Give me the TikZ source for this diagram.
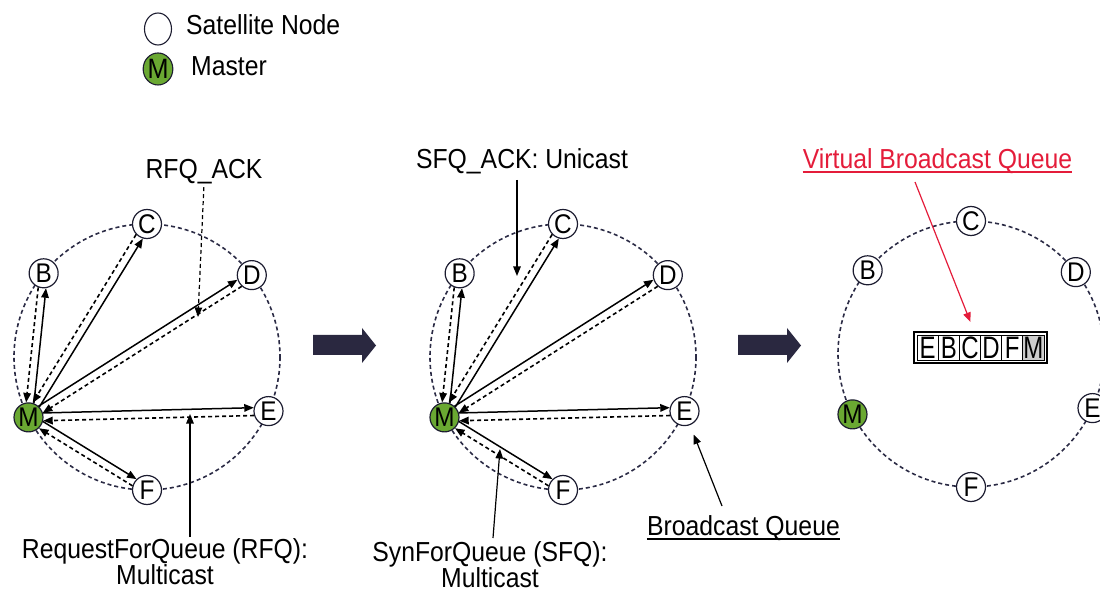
\documentclass[tikz,border=0pt]{standalone}
\usepackage{fontspec}
\setmainfont{Liberation Sans}[FakeStretch=0.9]
\usepackage{graphicx}
\usetikzlibrary{arrows.meta,shapes.geometric,fit}

\definecolor{ringcol}{HTML}{2B2B45}
\definecolor{edgecol}{HTML}{1C1C30}
\definecolor{mastergreen}{HTML}{6AA832}
\definecolor{bigarrowcol}{HTML}{2A2840}
\definecolor{labelred}{HTML}{E41C3A}

% ring of satellites around a dashed circle: #1 prefix, #2/#3 centre
\newcommand\ringnodes[3]{%
  \coordinate (#1c) at (#2,#3);
  \draw[ring] (#1c) circle[radius=133];
  \foreach \lab/\ang in {B/141,C/90,D/38,E/-24,F/-90}
    \node[sat] (#1\lab) at ({#2+133*cos(\ang)},{#3-133*sin(\ang)}) {\lab};
  \node[master] (#1M) at ({#2+133*cos(207)},{#3-133*sin(207)}) {M};
}

% master sends to every satellite (solid), satellites answer (dashed)
\newcommand\exchange[1]{%
  \draw[msg] (#1M.69) -- (#1B.279);
  \draw[ack] (#1B.249) -- (#1M.99);
  \draw[msg] (#1M.44) -- (#1C.254);
  \draw[ack] (#1C.224) -- (#1M.74);
  \draw[msg] (#1M.48) -- (#1D.198);
  \draw[ack] (#1D.228) -- (#1M.18);
  \draw[msg] (#1M.17) -- (#1E.167);
  \draw[ack] (#1E.197) -- (#1M.347);
  \draw[msg] (#1M.344) -- (#1F.134);
  \draw[ack] (#1F.164) -- (#1M.314);
}

\newcommand\qletter[1]{\scalebox{0.86}[1]{#1}}

\begin{document}
\begin{tikzpicture}[x=1pt,y=-1pt,
  every node/.style={font=\fontsize{27.5}{26}\selectfont},
  ring/.style={ringcol, line width=1.6pt, dash pattern=on 4pt off 3pt},
  sat/.style={circle, draw=edgecol, line width=1.2pt, fill=white,
    minimum size=29pt, inner sep=0pt, font=\fontsize{27}{27}\selectfont},
  master/.style={sat, fill=mastergreen},
  legsat/.style={ellipse, draw=edgecol, line width=1.1pt, fill=white,
    minimum width=27pt, minimum height=32pt, inner sep=0pt,
    font=\fontsize{28}{28}\selectfont},
  legmaster/.style={legsat, fill=mastergreen},
  tip/.style={-{Triangle[length=9.5pt,width=7.5pt]}},
  msg/.style={black, line width=1.5pt, tip},
  ack/.style={msg, line width=1.6pt, dash pattern=on 4pt off 3pt},
  txt/.style={inner sep=0pt, align=center},
  cell/.style={draw=black, line width=0.8pt, minimum width=21.17pt,
    minimum height=25pt, inner sep=0pt, font=\fontsize{31}{31}\selectfont},
  redptr/.style={labelred, line width=1.2pt, tip, shorten >=10pt},
  bigarrow/.style={fill=bigarrowcol}]

\useasboundingbox (0,0) rectangle (1100,593);

% legend
\node[legsat] (legsat) at (158,29) {};
\node[legmaster] (legmaster) at (158,69) {M};
\node[txt, anchor=north west] (legsattxt) at (186,14) {Satellite Node};
\node[txt, anchor=north west] (legmastxt) at (191,56) {Master};

% first stage: request and acknowledgement
\ringnodes{p1}{147}{357}
\exchange{p1}
\node[txt, anchor=north] (rfqack) at (204,159) {RFQ\_ACK};
\coordinate (rfqacktip) at (198,317);
\draw[ack, line width=1.2pt, shorten <=3pt] (rfqack.south) -- (rfqacktip);
\node[txt, anchor=north] (rfq) at (165,538) {RequestForQueue (RFQ):\\Multicast};
\coordinate (rfqtip) at (190,414);
\draw[msg, line width=1.2pt, shorten <=1pt] (rfq.north -| rfqtip) -- (rfqtip);

% step arrows
\foreach \dx in {0,425}
  \fill[bigarrow, xshift=\dx pt] (313,335) -- (362,335) -- (362,328) -- (376,345.5)
    -- (362,363) -- (362,355) -- (313,355) -- cycle;

% second stage: synchronisation
\ringnodes{p2}{563}{357}
\exchange{p2}
\node[txt, anchor=north] (sfqack) at (522,148) {SFQ\_ACK: Unicast};
\coordinate (sfqacktip) at (517,276);
\draw[msg, line width=1.2pt, shorten <=6pt] (sfqack.south -| sfqacktip) -- (sfqacktip);
\node[txt, anchor=north] (sfq) at (490,541) {SynForQueue (SFQ):\\Multicast};
\coordinate (sfqfoot) at (493,538);
\coordinate (sfqtip) at (500,449);
\draw[msg, line width=1.2pt] (sfqfoot) -- (sfqtip);
\node[txt, anchor=north] (bq) at (743.5,515) {Broadcast Queue};
\draw[line width=1.5pt] ([yshift=-4pt]bq.base west) -- ([yshift=-4pt]bq.base east);
\coordinate (bqfoot) at (722,506);
\draw[msg, line width=1.2pt, shorten >=10pt] (bqfoot) -- (p2E);

% third stage: the virtual broadcast queue
\ringnodes{p3}{971}{354}
\foreach \ch [count=\i] in {E,B,C,D,F}
  \node[cell] (q\i) at ({917+21.17*(\i-0.5)},347.5) {\qletter{\ch}};
\node[cell, fill=gray!40] (q6) at ({917+21.17*5.5},347.5) {\qletter{M}};
\node[draw=black, line width=1.8pt, inner sep=2.4pt, fit=(q1)(q6)] (queue) {};
\node[txt, anchor=north, text=labelred] (vbq) at (937.5,148) {Virtual Broadcast Queue};
\draw[labelred, line width=1.5pt] ([yshift=-4pt]vbq.base west) -- ([yshift=-4pt]vbq.base east);
\coordinate (vbqfoot) at (915,182);
\draw[redptr] (vbqfoot) -- (queue);

\end{tikzpicture}
\end{document}
